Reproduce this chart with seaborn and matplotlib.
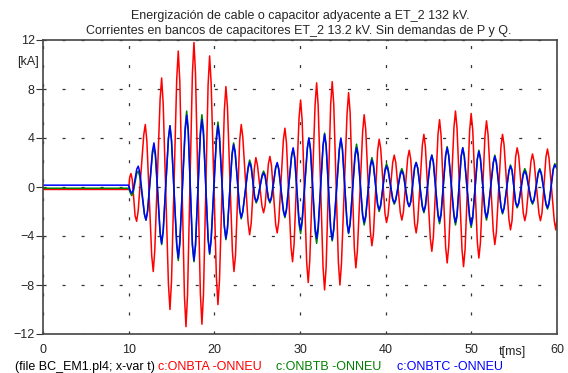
import matplotlib
matplotlib.use("Agg")
import matplotlib.pyplot as plt
import pandas as pd
import seaborn as sns

# ---- data: each row = shoulder, extremum, shoulder ----
red_t = [0.0, 10.0,
         10.12, 10.27, 10.42,
         10.75, 10.93, 11.11,
         11.76, 11.94, 12.12,
         12.69, 12.87, 13.05,
         13.67, 13.85, 14.03,
         14.64, 14.82, 15.00,
         15.61, 15.79, 15.97,
         16.51, 16.69, 16.87,
         17.44, 17.62, 17.80,
         18.37, 18.55, 18.73,
         19.27, 19.45, 19.63,
         20.24, 20.42, 20.60,
         21.17, 21.35, 21.53,
         22.11, 22.29, 22.47,
         22.96, 23.14, 23.32,
         23.94, 24.12, 24.30,
         24.67, 24.85, 25.03,
         25.57, 25.75, 25.93,
         26.31, 26.49, 26.67,
         27.16, 27.34, 27.52,
         28.06, 28.24, 28.42,
         28.95, 29.13, 29.31,
         29.89, 30.07, 30.25,
         30.78, 30.96, 31.14,
         31.76, 31.94, 32.12,
         32.69, 32.87, 33.05,
         33.58, 33.76, 33.94,
         34.48, 34.66, 34.84,
         35.49, 35.67, 35.85,
         36.34, 36.52, 36.70,
         37.31, 37.49, 37.67,
         38.21, 38.39, 38.57,
         39.06, 39.24, 39.42,
         39.92, 40.10, 40.28,
         40.82, 41.00, 41.18,
         41.71, 41.89, 42.07,
         42.57, 42.75, 42.93,
         43.38, 43.56, 43.74,
         44.28, 44.46, 44.64,
         45.21, 45.39, 45.57,
         46.11, 46.29, 46.47,
         47.00, 47.18, 47.36,
         47.97, 48.15, 48.33,
         48.91, 49.09, 49.27,
         49.80, 49.98, 50.16,
         50.70, 50.88, 51.06,
         51.59, 51.77, 51.95,
         52.56, 52.74, 52.92,
         53.46, 53.64, 53.82,
         54.39, 54.57, 54.75,
         55.17, 55.35, 55.53,
         56.06, 56.24, 56.42,
         56.96, 57.14, 57.32,
         57.89, 58.07, 58.25,
         58.71, 58.89, 59.07,
         59.68, 59.86, 60.0]
red_v = [-0.2, -0.2,
         0.8, 1.1, 0.6,
         -2.35, -2.8, -1.95,
         4.25, 5.1, 3.8,
         -5.6, -6.9, -5.15,
         7.15, 8.9, 6.8,
         -7.9, -10.0, -7.7,
         8.8, 11.1, 8.6,
         -8.9, -11.4, -8.85,
         9.25, 11.8, 9.3,
         -8.7, -11.2, -8.8,
         8.3, 10.7, 8.45,
         -7.35, -9.6, -7.65,
         6.25, 8.2, 6.55,
         -5.25, -6.9, -5.6,
         3.8, 5.1, 4.1,
         -2.9, -3.9, -3.0,
         1.5, 2.4, 1.8,
         -1.6, -2.1, -1.5,
         1.9, 2.5, 1.75,
         -3.05, -3.75, -2.8,
         3.85, 4.8, 3.6,
         -4.9, -6.1, -4.65,
         5.65, 7.1, 5.45,
         -6.15, -7.8, -6.0,
         6.7, 8.5, 6.65,
         -6.55, -8.4, -6.55,
         6.75, 8.6, 6.75,
         -6.15, -8.0, -6.25,
         5.95, 7.7, 6.1,
         -5.0, -6.6, -5.2,
         4.5, 5.9, 4.7,
         -3.6, -4.8, -3.85,
         2.95, 3.9, 3.15,
         -2.15, -2.9, -2.3,
         2.0, 2.6, 2.0,
         -2.1, -2.7, -2.05,
         2.35, 3.0, 2.25,
         -3.0, -3.75, -2.85,
         3.4, 4.3, 3.25,
         -4.2, -5.25, -4.05,
         4.3, 5.5, 4.2,
         -4.9, -6.2, -4.85,
         4.85, 6.2, 4.8,
         -5.1, -6.5, -5.1,
         4.6, 6.0, 4.7,
         -4.5, -5.8, -4.55,
         4.15, 5.4, 4.3,
         -3.6, -4.7, -3.7,
         3.3, 4.3, 3.45,
         -2.65, -3.5, -2.75,
         2.45, 3.2, 2.55,
         -2.1, -2.75, -2.15,
         2.1, 2.7, 2.1,
         -2.15, -2.75, -2.1,
         2.45, 3.1, 2.35,
         -2.75, -3.5, -2.6]

bc_t = [0.0, 10.0,
        10.20, 10.35, 10.53,
        10.94, 11.12, 11.30,
        11.84, 12.02, 12.20,
        12.77, 12.95, 13.13,
        13.67, 13.85, 14.03,
        14.64, 14.82, 15.00,
        15.61, 15.79, 15.97,
        16.59, 16.77, 16.95,
        17.44, 17.62, 17.80,
        18.37, 18.55, 18.73,
        19.27, 19.45, 19.63,
        20.24, 20.42, 20.60,
        21.17, 21.35, 21.53,
        22.07, 22.25, 22.43,
        22.96, 23.14, 23.32,
        23.94, 24.12, 24.30,
        24.71, 24.89, 25.07,
        25.57, 25.75, 25.93,
        26.31, 26.49, 26.67,
        27.16, 27.34, 27.52,
        28.06, 28.24, 28.42,
        29.02, 29.20, 29.38,
        29.89, 30.07, 30.25,
        30.86, 31.04, 31.22,
        31.76, 31.94, 32.12,
        32.69, 32.87, 33.05,
        33.58, 33.76, 33.94,
        34.59, 34.77, 34.95,
        35.49, 35.67, 35.85,
        36.42, 36.60, 36.78,
        37.31, 37.49, 37.67,
        38.21, 38.39, 38.57,
        39.06, 39.24, 39.42,
        39.92, 40.10, 40.28,
        40.82, 41.00, 41.18,
        41.71, 41.89, 42.07,
        42.57, 42.75, 42.93,
        43.38, 43.56, 43.74,
        44.28, 44.46, 44.64,
        45.21, 45.39, 45.57,
        46.11, 46.29, 46.47,
        47.00, 47.18, 47.36,
        47.97, 48.15, 48.33,
        48.82, 49.00, 49.18,
        49.80, 49.98, 50.16,
        50.70, 50.88, 51.06,
        51.59, 51.77, 51.95,
        52.56, 52.74, 52.92,
        53.46, 53.64, 53.82,
        54.39, 54.57, 54.75,
        55.17, 55.35, 55.53,
        56.06, 56.24, 56.42,
        56.96, 57.14, 57.32,
        57.81, 57.99, 58.17,
        58.71, 58.89, 59.07,
        59.56, 59.74, 60.0]
green_v = [-0.1, -0.1,
           -0.5, -0.7, -0.45,
           1.1, 1.3, 0.85,
           -2.25, -2.7, -2.05,
           2.65, 3.3, 2.4,
           -3.8, -4.7, -3.65,
           3.95, 5.0, 3.8,
           -4.8, -6.0, -4.65,
           4.85, 6.2, 4.85,
           -4.75, -6.1, -4.8,
           4.6, 5.9, 4.65,
           -4.25, -5.5, -4.3,
           4.1, 5.3, 4.25,
           -3.25, -4.3, -3.45,
           2.75, 3.6, 2.9,
           -1.9, -2.6, -2.05,
           1.65, 2.2, 1.8,
           -0.9, -1.3, -1.0,
           1.0, 1.3, 1.0,
           -1.0, -1.3, -0.95,
           1.55, 1.9, 1.4,
           -2.0, -2.5, -1.9,
           2.5, 3.1, 2.35,
           -3.05, -3.8, -2.95,
           3.15, 4.0, 3.05,
           -3.65, -4.6, -3.6,
           3.4, 4.4, 3.45,
           -3.45, -4.4, -3.5,
           3.0, 3.9, 3.05,
           -2.95, -3.8, -3.0,
           2.7, 3.5, 2.75,
           -2.35, -3.1, -2.5,
           1.8, 2.4, 1.9,
           -1.5, -2.0, -1.55,
           1.45, 1.9, 1.55,
           -1.05, -1.4, -1.1,
           1.2, 1.5, 1.15,
           -1.25, -1.6, -1.2,
           1.6, 2.0, 1.55,
           -1.65, -2.1, -1.6,
           2.1, 2.6, 2.0,
           -2.4, -3.0, -2.3,
           2.6, 3.3, 2.6,
           -2.4, -3.1, -2.4,
           2.5, 3.2, 2.5,
           -2.6, -3.3, -2.6,
           2.3, 3.0, 2.35,
           -2.05, -2.7, -2.1,
           2.0, 2.6, 2.05,
           -1.65, -2.2, -1.75,
           1.35, 1.8, 1.4,
           -1.3, -1.7, -1.35,
           1.15, 1.5, 1.2,
           -1.1, -1.4, -1.1,
           1.2, 1.5, 1.15,
           -1.45, -1.8, -1.4,
           1.5, 1.9, 1.6]
blue_v = [0.15, 0.15,
          -0.35, -0.5, -0.25,
          1.45, 1.7, 1.2,
          -2.2, -2.7, -2.0,
          2.9, 3.6, 2.7,
          -3.7, -4.6, -3.55,
          3.95, 5.0, 3.8,
          -4.6, -5.8, -4.5,
          4.55, 5.85, 4.55,
          -4.7, -6.0, -4.75,
          4.25, 5.5, 4.3,
          -4.2, -5.4, -4.25,
          3.85, 5.0, 4.0,
          -3.2, -4.2, -3.35,
          2.6, 3.45, 2.8,
          -1.85, -2.5, -2.0,
          1.5, 2.0, 1.6,
          -0.8, -1.2, -0.9,
          0.85, 1.15, 0.85,
          -0.9, -1.2, -0.8,
          1.6, 2.0, 1.5,
          -1.9, -2.4, -1.8,
          2.6, 3.2, 2.45,
          -2.75, -3.5, -2.7,
          3.2, 4.0, 3.1,
          -3.3, -4.2, -3.25,
          3.35, 4.3, 3.35,
          -3.35, -4.3, -3.4,
          3.1, 4.0, 3.15,
          -2.9, -3.75, -3.0,
          2.45, 3.2, 2.55,
          -2.25, -2.9, -2.35,
          1.65, 2.2, 1.75,
          -1.4, -1.85, -1.45,
          1.3, 1.7, 1.35,
          -0.95, -1.3, -1.0,
          1.0, 1.3, 1.0,
          -1.3, -1.6, -1.2,
          1.6, 2.0, 1.55,
          -1.55, -2.0, -1.5,
          2.1, 2.6, 2.0,
          -2.2, -2.8, -2.15,
          2.55, 3.2, 2.55,
          -2.25, -2.9, -2.25,
          2.55, 3.2, 2.5,
          -2.4, -3.1, -2.45,
          2.25, 2.9, 2.3,
          -1.9, -2.5, -1.95,
          1.95, 2.5, 2.0,
          -1.6, -2.1, -1.7,
          1.3, 1.7, 1.35,
          -1.25, -1.6, -1.3,
          1.0, 1.3, 1.0,
          -1.0, -1.3, -1.0,
          1.1, 1.4, 1.05,
          -1.35, -1.7, -1.3,
          1.4, 1.8, 1.5]

series_names = ["c:ONBTA -ONNEU", "c:ONBTB -ONNEU", "c:ONBTC -ONNEU"]
series_colors = ["#ff0000", "#008000", "#0000ff"]
x_ticks = [0, 10, 20, 30, 40, 50, 60]
y_ticks = [-12, -8, -4, 0, 4, 8, 12]
title_lines = ["Energización de cable o capacitor adyacente a ET_2 132 kV.",
               "Corrientes en bancos de capacitores ET_2 13.2 kV. Sin demandas de P y Q."]
file_note = "(file BC_EM1.pl4; x-var t)"

sns.set_style("white")
plt.rcParams['font.family'] = ['Liberation Sans', 'DejaVu Sans']
plt.rcParams['lines.scale_dashes'] = False


def frame(t, v, name):
    n = min(len(t), len(v))
    return pd.DataFrame({"t": t[:n], "i": v[:n], "s": name})


df = pd.concat([
    frame(red_t, red_v, series_names[0]),
    frame(bc_t, green_v, series_names[1]),
    frame(bc_t, blue_v, series_names[2]),
], ignore_index=True)

W, H = 568, 373
fig = plt.figure(figsize=(W / 100, H / 100), dpi=100)
ax = fig.add_axes([43 / W, 1 - 334 / H, (557 - 43) / W, (334 - 40) / H])

sns.lineplot(data=df, x="t", y="i", hue="s", hue_order=series_names,
             palette=dict(zip(series_names, series_colors)),
             sort=False, estimator=None, legend=False, ax=ax, linewidth=1.1)

ax.set_xlim(0, 60)
ax.set_ylim(-12, 12)
ax.set_xticks(x_ticks)
ax.set_yticks(y_ticks)
ax.set_xlabel("")
ax.set_ylabel("")
ax.grid(True, color="#333333", linestyle=(0, (2.2, 11.5)), linewidth=0.9)
for sp in ax.spines.values():
    sp.set_color("#444444")
    sp.set_linewidth(1.2)
ax.tick_params(axis="y", left=True, direction="out", length=5, width=0.8,
               pad=1, labelsize=9, color="#333333")
ax.tick_params(axis="x", bottom=False, length=0, pad=7, labelsize=9)

fig.text(300 / W, 1 - 16 / H, title_lines[0], ha="center", va="center", fontsize=9)
fig.text(299 / W, 1 - 31 / H, title_lines[1], ha="center", va="center", fontsize=9)
fig.text(28 / W, 1 - 62 / H, "[kA]", ha="center", va="center", fontsize=9)
fig.text(512 / W, 1 - 352 / H, "t[ms]", ha="center", va="center", fontsize=9)
fig.text(15 / W, 1 - 367 / H, file_note, ha="left", va="center", fontsize=9, color="black")
for xpos, name, col in zip([158, 276, 397], series_names, series_colors):
    fig.text(xpos / W, 1 - 367 / H, name, ha="left", va="center", fontsize=9, color=col)

fig.savefig("out.png", dpi=100)
